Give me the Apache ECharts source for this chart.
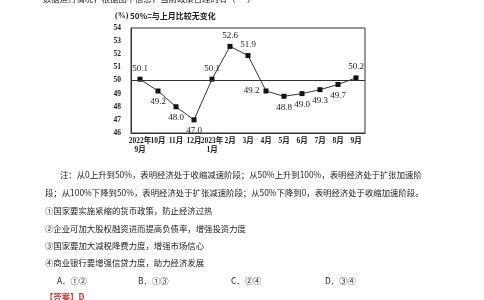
<!DOCTYPE html>
<html><head><meta charset="utf-8">
<script src="https://cdn.jsdelivr.net/npm/echarts@6/dist/echarts.min.js"></script>
<style>html,body{margin:0;padding:0;background:#fff;}#c{width:484px;height:300px;}</style>
</head><body><div id="c"></div>
<script>
const categories = ['2022年\n9月','10月','11月','12月','2023年\n1月','2月','3月','4月','5月','6月','7月','8月','9月'];
const values = [50.1, 49.2, 48.0, 47.0, 50.1, 52.6, 51.9, 49.2, 48.8, 49.0, 49.3, 49.7, 50.2];
const labelPos = ['top','bottom','bottom','bottom','top','top','top','left','bottom','bottom','bottom','bottom','top'];
const yTicks = [46, 54, 1];
const refLine = 50;
const chartTitle = '(%) 50%=与上月比较无变化';
const topLine = '数据运行情况，根据图中信息，当前政策合理的有（      ）';
const noteLines = ['注：从0上升到50%，表明经济处于收缩减速阶段；从50%上升到100%，表明经济处于扩张加速阶',
                   '段；从100%下降到50%，表明经济处于扩张减速阶段；从50%下降到0，表明经济处于收缩加速阶段。'];
const items = ['①国家要实施紧缩的货币政策，防止经济过热','②企业可加大股权融资进而提高负债率，增强投资力度','③国家要加大减税降费力度，增强市场信心','④商业银行要增强信贷力度，助力经济发展'];
const options = ['A．①②','B．①③','C．②④','D．③④'];
const answer = '【答案】D';

const serif = '"Liberation Serif","Noto Sans CJK SC",serif';
const cjk = '"Noto Sans CJK SC","Liberation Serif",serif';
const chart = echarts.init(document.getElementById('c'));
const txt = (x,y,t,o={}) => ({type:'text',left:x,top:y,style:Object.assign({text:t,fill:'#222',font:'8.4px '+cjk},o)});
const graphics = [
  txt(43,-5,topLine),
  txt(115,12,'(%)',{font:'bold 8px '+serif}),
  txt(130,12,'50%=与上月比较无变化',{font:'bold 8px '+cjk}),
  txt(60,171,noteLines[0],{font:'8.4px '+cjk}),
  txt(45,189,noteLines[1],{font:'8.4px '+cjk}),
  txt(45,207,items[0]), txt(45,225,items[1]), txt(45,242,items[2]), txt(45,259,items[3]),
  txt(57,277,options[0]), txt(138,277,options[1]), txt(231,277,options[2]), txt(325,277,options[3]),
  txt(45,293,answer,{fill:'#d0302a',font:'bold 8.4px '+cjk})
];
chart.setOption({
  animation:false,
  grid:{left:131,right:119,top:28,bottom:167,show:true,borderColor:'#333',borderWidth:1},
  xAxis:{type:'category',data:categories,boundaryGap:true,
    axisLine:{lineStyle:{color:'#333'}},axisTick:{show:false},
    axisLabel:{interval:0,color:'#222',fontSize:7.5,fontWeight:'bold',fontFamily:serif,margin:4,lineHeight:9}},
  yAxis:{type:'value',min:yTicks[0],max:yTicks[1],interval:yTicks[2],
    axisLine:{show:true,lineStyle:{color:'#333'}},axisTick:{show:false},splitLine:{show:false},
    axisLabel:{color:'#222',fontSize:7.5,fontWeight:'bold',fontFamily:serif,margin:10}},
  series:[{type:'line',data:values.map((v,i)=>({value:v,label:{position:labelPos[i]}})),
    symbol:'rect',symbolSize:5,itemStyle:{color:'#111'},lineStyle:{color:'#333',width:1},
    label:{show:true,color:'#222',fontSize:9,fontFamily:serif,distance:4,formatter:p=>p.value.toFixed(1)},
    markLine:{silent:true,symbol:'none',label:{show:false},lineStyle:{color:'#333',type:'solid',width:1},data:[{yAxis:refLine}]}}],
  graphic:graphics
});
</script></body></html>
